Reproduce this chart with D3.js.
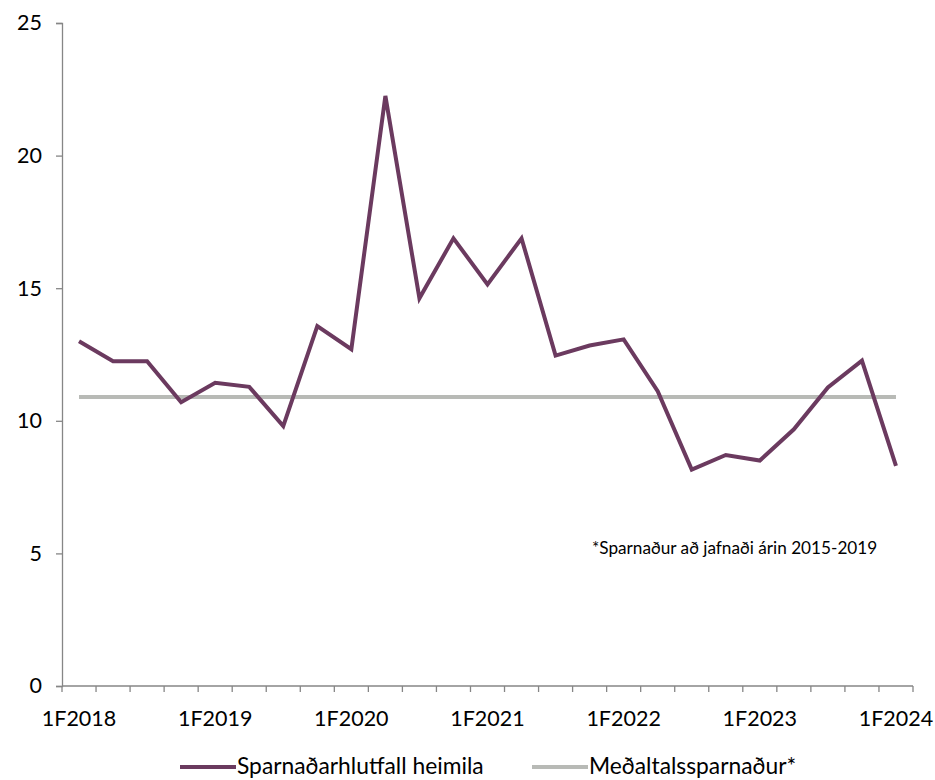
<!DOCTYPE html>
<html>
<head>
<meta charset="utf-8">
<script src="https://cdn.jsdelivr.net/npm/d3@7"></script>
<style>
  html, body { margin: 0; padding: 0; background: #fff; }
  svg { display: block; font-family: Lato, "Open Sans", sans-serif; }
</style>
</head>
<body>
<svg id="chart" width="935" height="780"></svg>
<script>
// Quarterly household saving ratio (%), 1F2018 – 1F2024
const quarters = [
  "1F2018","2F2018","3F2018","4F2018",
  "1F2019","2F2019","3F2019","4F2019",
  "1F2020","2F2020","3F2020","4F2020",
  "1F2021","2F2021","3F2021","4F2021",
  "1F2022","2F2022","3F2022","4F2022",
  "1F2023","2F2023","3F2023","4F2023",
  "1F2024"
];
const savingRatio = [
  13.0, 12.25, 12.25, 10.7,
  11.43, 11.28, 9.8, 13.57,
  12.7, 22.25, 14.62, 16.88,
  15.14, 16.88, 12.46, 12.84,
  13.07, 11.12, 8.16, 8.71,
  8.5, 9.68, 11.26, 12.27,
  8.3
];
// Average saving 2015–2019
const averageSaving = 10.9;
const yTicks = [0, 5, 10, 15, 20, 25];
const labelledQuarters = ["1F2018","1F2019","1F2020","1F2021","1F2022","1F2023","1F2024"];

const seriesNames = ["Sparnaðarhlutfall heimila", "Meðaltalssparnaður*"];
const seriesColors = ["#6b3a5f", "#b8bab6"];
const footnote = "*Sparnaður að jafnaði árin 2015-2019";

const svg = d3.select("#chart");
const plotLeft = 62, plotRight = 913, plotTop = 23, plotBottom = 686;

const x = d3.scaleBand().domain(quarters).range([plotLeft, plotRight]).padding(0);
const y = d3.scaleLinear().domain([0, 25]).range([plotBottom, plotTop]);
const cx = q => x(q) + x.bandwidth() / 2;

const axisColor = "#868686";
const tickFont = 21.5;

// Y axis
const yAxis = svg.append("g")
  .attr("transform", `translate(${plotLeft},0)`)
  .call(d3.axisLeft(y).tickValues(yTicks).tickSize(6).tickPadding(14).tickFormat(d3.format("d")));
yAxis.select(".domain").attr("stroke", axisColor).attr("stroke-width", 1.3);
yAxis.selectAll(".tick line").attr("stroke", axisColor).attr("stroke-width", 1.3);
yAxis.selectAll(".tick text").attr("font-size", tickFont).attr("fill", "#000")
  .attr("font-family", "Lato, 'Open Sans', sans-serif");

// X axis: tick marks at category boundaries, labels at yearly first quarters
const boundaries = quarters.map(q => x(q)).concat([plotRight]);
const xg = svg.append("g");
xg.append("line")
  .attr("x1", plotLeft).attr("x2", plotRight).attr("y1", plotBottom).attr("y2", plotBottom)
  .attr("stroke", axisColor).attr("stroke-width", 1.3);
xg.selectAll("line.tk").data(boundaries).join("line")
  .attr("class", "tk")
  .attr("x1", d => d).attr("x2", d => d)
  .attr("y1", plotBottom).attr("y2", plotBottom + 6)
  .attr("stroke", axisColor).attr("stroke-width", 1.3);
xg.selectAll("text").data(labelledQuarters).join("text")
  .attr("x", d => cx(d))
  .attr("y", plotBottom + 40)
  .attr("text-anchor", "middle")
  .attr("font-size", tickFont)
  .attr("fill", "#000")
  .text(d => d);

// Average line
svg.append("line")
  .attr("x1", cx(quarters[0])).attr("x2", cx(quarters[quarters.length - 1]))
  .attr("y1", y(averageSaving)).attr("y2", y(averageSaving))
  .attr("stroke", seriesColors[1]).attr("stroke-width", 4);

// Saving ratio line
const line = d3.line().x((d, i) => cx(quarters[i])).y(d => y(d));
svg.append("path")
  .datum(savingRatio)
  .attr("d", line)
  .attr("fill", "none")
  .attr("stroke", seriesColors[0])
  .attr("stroke-width", 4)
  .attr("stroke-linejoin", "miter");

// Footnote
svg.append("text")
  .attr("x", 592).attr("y", 554)
  .attr("font-size", 17.2)
  .attr("fill", "#000")
  .text(footnote);

// Legend
const legend = [
  { name: seriesNames[0], color: seriesColors[0], x0: 180 },
  { name: seriesNames[1], color: seriesColors[1], x0: 532 }
];
const lg = svg.append("g");
legend.forEach(d => {
  lg.append("line")
    .attr("x1", d.x0).attr("x2", d.x0 + 56)
    .attr("y1", 767).attr("y2", 767)
    .attr("stroke", d.color).attr("stroke-width", 4);
  lg.append("text")
    .attr("x", d.x0 + 57).attr("y", 774)
    .attr("font-size", 22.8)
    .attr("fill", "#000")
    .text(d.name);
});
</script>
</body>
</html>
